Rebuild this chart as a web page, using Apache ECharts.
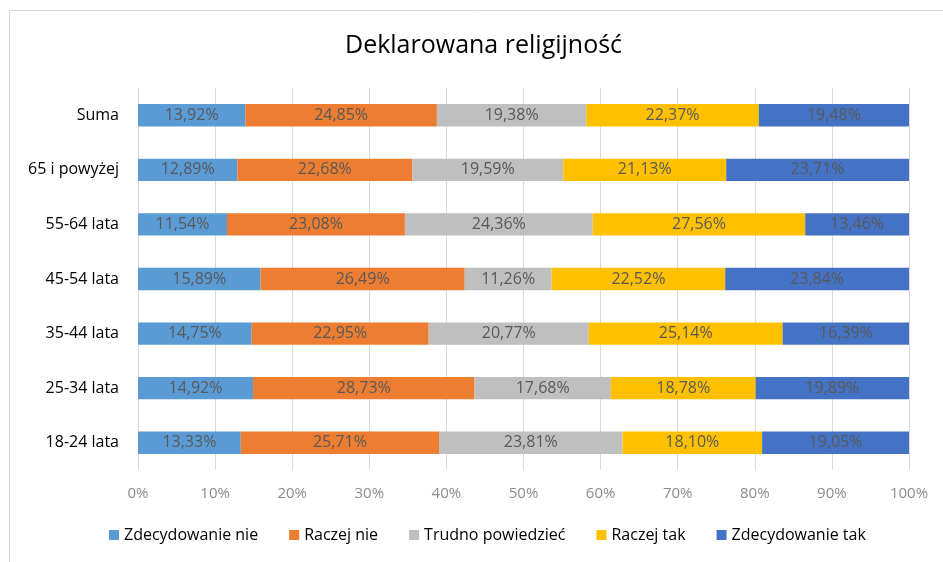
<!DOCTYPE html>
<html>
<head>
<meta charset="utf-8">
<script src="https://cdn.jsdelivr.net/npm/echarts@6/dist/echarts.min.js"></script>
<style>html,body{margin:0;padding:0;background:#fff}#c{width:943px;height:562px}</style>
</head>
<body>
<div id="c"></div>
<script>
var categories = ['Suma', '65 i powyżej', '55-64 lata', '45-54 lata', '35-44 lata', '25-34 lata', '18-24 lata'];
var seriesNames = ['Zdecydowanie nie', 'Raczej nie', 'Trudno powiedzieć', 'Raczej tak', 'Zdecydowanie tak'];
var zdecydowanieNie = [13.92, 12.89, 11.54, 15.89, 14.75, 14.92, 13.33];
var raczejNie = [24.85, 22.68, 23.08, 26.49, 22.95, 28.73, 25.71];
var trudnoPowiedziec = [19.38, 19.59, 24.36, 11.26, 20.77, 17.68, 23.81];
var raczejTak = [22.37, 21.13, 27.56, 22.52, 25.14, 18.78, 18.10];
var zdecydowanieTak = [19.48, 23.71, 13.46, 23.84, 16.39, 19.89, 19.05];
var tickValues = [0, 10, 20, 30, 40, 50, 60, 70, 80, 90, 100];

var colors = ['#5B9BD5', '#ED7D31', '#BFBFBF', '#FFC000', '#4472C4'];
var allData = [zdecydowanieNie, raczejNie, trudnoPowiedziec, raczejTak, zdecydowanieTak];
var FONT = 'Open Sans';

var chart = echarts.init(document.getElementById('c'));
chart.setOption({
  animation: false,
  color: colors,
  title: {
    text: 'Deklarowana religijność',
    left: 340,
    top: 28,
    textStyle: { fontFamily: FONT, fontSize: 25, fontWeight: 'normal', color: '#000' }
  },
  graphic: [{
    type: 'rect',
    shape: { x: 9.5, y: 10.5, width: 960, height: 580 },
    style: { fill: 'none', stroke: '#D9D9D9', lineWidth: 1 },
    silent: true
  }],
  legend: {
    bottom: 14,
    left: 104,
    itemWidth: 10,
    itemHeight: 10,
    itemGap: 31,
    icon: 'rect',
    textStyle: { fontFamily: FONT, fontSize: 16, color: '#000' },
    data: seriesNames
  },
  grid: { left: 138, right: 34, top: 88, bottom: 92, containLabel: false },
  xAxis: {
    type: 'value',
    min: tickValues[0], max: tickValues[tickValues.length - 1], interval: 10,
    axisLine: { show: false },
    axisTick: { show: false },
    splitLine: { lineStyle: { color: '#D9D9D9', width: 1 } },
    axisLabel: { formatter: '{value}%', fontFamily: FONT, fontSize: 15, color: '#8C8C8C', margin: 16 }
  },
  yAxis: {
    type: 'category',
    inverse: true,
    data: categories,
    axisLine: { show: false },
    axisTick: { show: false },
    axisLabel: { fontFamily: FONT, fontSize: 16, color: '#000', margin: 19 }
  },
  series: seriesNames.map(function (n, i) {
    return {
      name: n,
      type: 'bar',
      stack: 'total',
      barWidth: '41%',
      data: allData[i],
      label: {
        show: true,
        position: 'inside',
        formatter: function (p) { return p.value.toFixed(2).replace('.', ',') + '%'; },
        fontFamily: FONT,
        fontSize: 16,
        color: '#595959'
      }
    };
  })
});
</script>
</body>
</html>
